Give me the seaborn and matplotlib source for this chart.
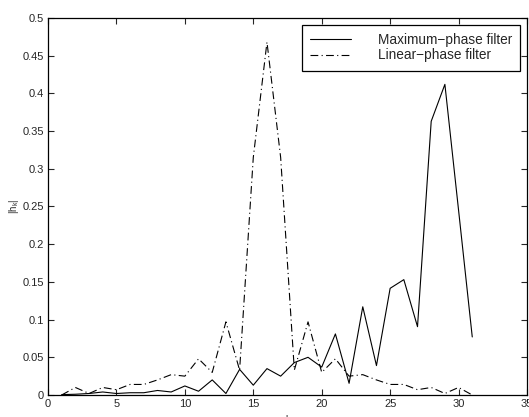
import numpy as np
import pandas as pd
import matplotlib
matplotlib.use("Agg")
import matplotlib.pyplot as plt
from matplotlib.ticker import FuncFormatter, MultipleLocator
import seaborn as sns

# Filter tap indices and tap magnitudes |h_k|
k = list(range(1, 32))
max_phase = [0.0005, 0.001, 0.002, 0.004, 0.002, 0.003, 0.003, 0.006, 0.004, 0.012,
             0.005, 0.020, 0.002, 0.034, 0.013, 0.035, 0.025, 0.043, 0.050, 0.037,
             0.081, 0.0155, 0.117, 0.039, 0.1415, 0.153, 0.0906, 0.363, 0.412, 0.245,
             0.077]
linear_phase = [0.000, 0.010, 0.002, 0.010, 0.007, 0.014, 0.014, 0.020, 0.027, 0.025,
                0.048, 0.030, 0.097, 0.033, 0.315, 0.468, 0.315, 0.033, 0.097, 0.030,
                0.048, 0.025, 0.027, 0.020, 0.014, 0.014, 0.007, 0.010, 0.002, 0.010,
                0.000]
series_names = ["Maximum\u2212phase filter", "Linear\u2212phase filter"]

df = pd.concat([
    pd.DataFrame({"k": k, "h": max_phase, "filter": series_names[0]}),
    pd.DataFrame({"k": k, "h": linear_phase, "filter": series_names[1]}),
])

sns.set_style("white")
plt.rcParams["font.family"] = ["Liberation Sans", "DejaVu Sans"]

fig = plt.figure(figsize=(5.29, 4.17), dpi=100)
ax = fig.add_axes([48 / 529, 22 / 417, 479 / 529, 377 / 417])

sns.lineplot(data=df, x="k", y="h", hue="filter", style="filter",
             palette={series_names[0]: "black", series_names[1]: "black"},
             dashes={series_names[0]: "", series_names[1]: (7, 3, 1, 3)},
             linewidth=0.8, ax=ax, legend=True)

ax.set_xlim(0, 35)
ax.set_ylim(0, 0.5)
ax.xaxis.set_major_locator(MultipleLocator(5))
ax.yaxis.set_major_locator(MultipleLocator(0.05))
ax.yaxis.set_major_formatter(FuncFormatter(lambda v, p: f"{v:g}"))
ax.xaxis.set_major_formatter(FuncFormatter(lambda v, p: f"{v:g}"))
ax.tick_params(direction="in", length=4, width=0.8, labelsize=8,
               top=True, right=True, bottom=True, left=True, pad=3)
for s in ax.spines.values():
    s.set_linewidth(0.9)
    s.set_color("black")

ax.set_xlabel("k", fontsize=7, labelpad=4)
ax.set_ylabel(r"|h$_\mathregular{k}$|", fontsize=7, labelpad=1)

leg = ax.legend(loc="upper right", fontsize=9.8, frameon=True, fancybox=False,
                framealpha=1, edgecolor="black", handlelength=3.0,
                handletextpad=2.0, borderpad=0.6, labelspacing=0.1,
                borderaxespad=0.5)
leg.get_frame().set_linewidth(0.9)
leg.set_title(None)

fig.savefig("out.png", dpi=100)
